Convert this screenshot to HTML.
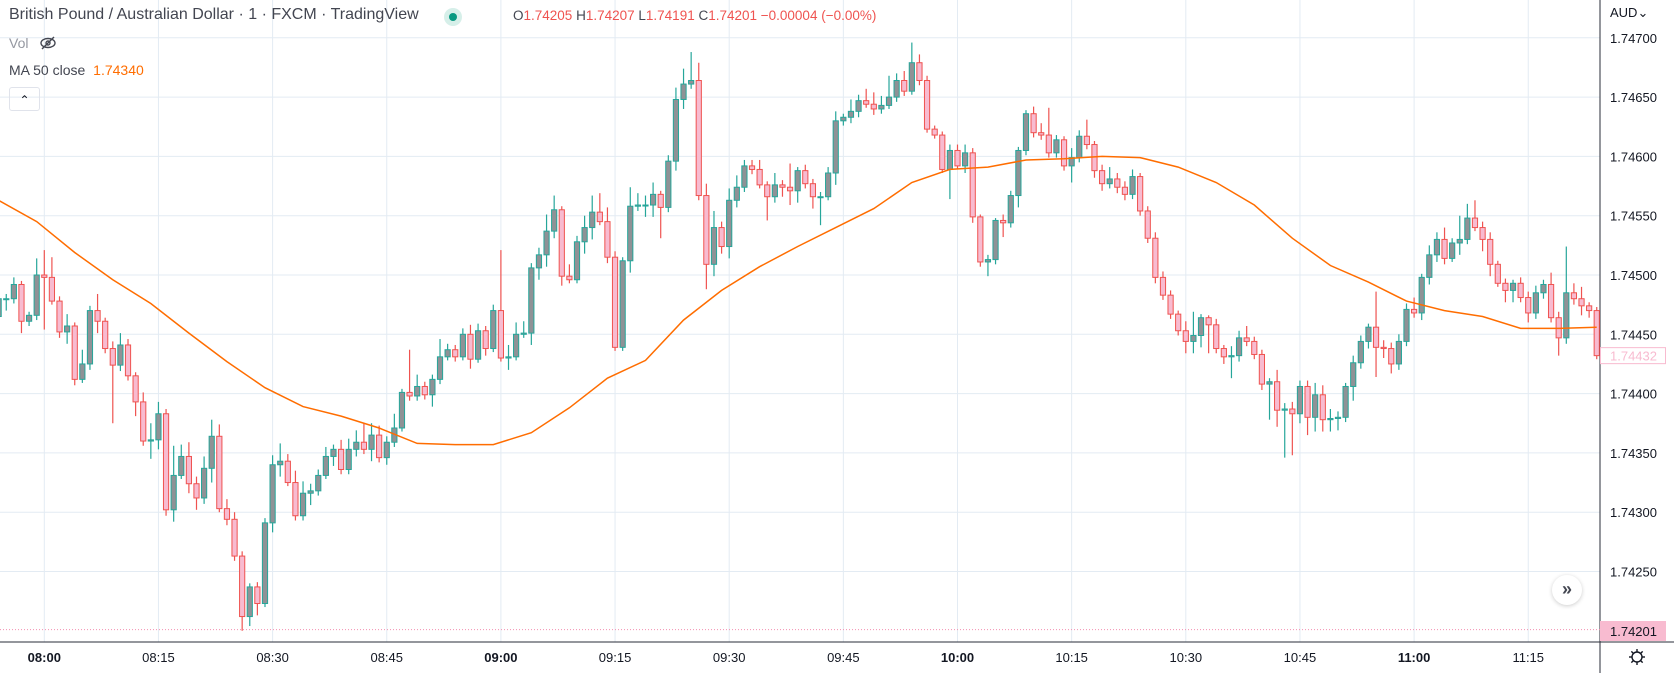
<!DOCTYPE html>
<html><head><meta charset="utf-8"><style>
html,body{margin:0;padding:0;background:#fff;}
body{width:1674px;height:673px;overflow:hidden;position:relative;font-family:"Liberation Sans",sans-serif;}
svg{position:absolute;left:0;top:0;}
.hdr{position:absolute;left:9px;top:6px;font-size:16px;color:#434651;white-space:nowrap;}
</style></head><body>
<svg id="chart" width="1674" height="673"></svg>
<div class="hdr">British Pound / Australian Dollar · 1 · FXCM · TradingView</div>
<div style="position:absolute;left:444px;top:8px;width:18px;height:18px;border-radius:50%;background:#d6efe9;"><div style="position:absolute;left:5px;top:5px;width:8px;height:8px;border-radius:50%;background:#089981;"></div></div>
<div style="position:absolute;left:513px;top:8px;font-size:13.5px;color:#ef5350;white-space:nowrap;"><span style="color:#434651">O</span>1.74205 <span style="color:#434651">H</span>1.74207 <span style="color:#434651">L</span>1.74191 <span style="color:#434651">C</span>1.74201 −0.00004 (−0.00%)</div>
<div style="position:absolute;left:9px;top:35px;font-size:14px;color:#9598a1;">Vol</div>
<svg style="left:38px;top:35px" width="20" height="16"><ellipse cx="10" cy="8" rx="7" ry="4.5" fill="none" stroke="#434651" stroke-width="1.4"/><circle cx="10" cy="8" r="2" fill="none" stroke="#434651" stroke-width="1.4"/><line x1="4" y1="14" x2="16" y2="2" stroke="#434651" stroke-width="1.4"/></svg>
<div style="position:absolute;left:9px;top:62px;font-size:14px;color:#434651;white-space:nowrap;">MA 50 close <span style="color:#ff6d00;margin-left:4px">1.74340</span></div>
<div style="position:absolute;left:9px;top:87px;width:29px;height:22px;border:1px solid #e0e3eb;border-radius:3px;font-size:12px;color:#131722;text-align:center;line-height:24px;">&#x2303;</div>
<div style="position:absolute;left:1610px;top:5px;font-size:13px;color:#131722;">AUD&#x2304;</div>
<div style="position:absolute;left:1552px;top:575px;width:30px;height:30px;border-radius:50%;background:#fff;box-shadow:0 1px 4px rgba(0,0,0,0.2);text-align:center;line-height:29px;font-size:18px;font-weight:bold;color:#434651;">»</div>
<script>
const times=["08:00","08:15","08:30","08:45","09:00","09:15","09:30","09:45","10:00","10:15","10:30","10:45","11:00","11:15"];
const priceTicks=[1.747,1.7465,1.746,1.7455,1.745,1.7445,1.744,1.7435,1.743,1.7425];
const firstOpen=74465;
const closes=[74480,74480,74492,74461,74466,74500,74498,74478,74452,74457,
74412,74425,74470,74461,74438,74424,74441,74415,74393,74360,
74361,74383,74302,74331,74347,74324,74312,74337,74364,74303,
74294,74263,74212,74237,74223,74291,74340,74343,74325,74297,
74316,74318,74331,74347,74353,74336,74353,74359,74353,74365,
74346,74359,74371,74401,74398,74406,74399,74412,74431,74437,
74431,74450,74429,74453,74438,74470,74430,74431,74450,74451,
74506,74517,74537,74555,74499,74496,74528,74540,74553,74545,
74515,74439,74512,74558,74559,74559,74568,74557,74596,74648,
74661,74664,74567,74509,74540,74524,74563,74574,74592,74589,
74576,74566,74576,74574,74571,74588,74577,74566,74566,74586,
74630,74633,74638,74647,74644,74640,74643,74650,74664,74655,
74679,74664,74623,74618,74589,74605,74592,74603,74549,74511,
74513,74546,74544,74567,74605,74636,74620,74618,74603,74614,
74592,74599,74617,74610,74588,74577,74581,74574,74568,74583,
74554,74531,74498,74483,74467,74453,74444,74449,74464,74458,
74438,74431,74432,74447,74444,74433,74408,74410,74386,74387,
74383,74406,74380,74399,74378,74379,74380,74406,74426,74444,
74456,74439,74438,74425,74444,74471,74468,74498,74517,74530,
74514,74527,74530,74548,74540,74530,74509,74493,74487,74493,
74481,74468,74485,74492,74464,74447,74485,74480,74474,74470,74432];
const upWick=[5,4,6,3,3,14,21,17,4,10,3,12,4,14,3,6,10,5,3,8,14,10,4,25,10,12,6,10,14,10,
8,6,4,3,4,4,8,15,6,10,10,6,5,8,4,8,9,10,16,10,8,5,12,3,36,10,4,4,15,5,
4,5,8,6,4,5,51,10,10,10,4,6,14,12,3,10,5,10,14,16,12,5,3,16,10,8,10,3,5,10,
13,24,15,10,14,5,10,10,5,5,8,3,10,4,20,3,5,4,4,5,8,3,10,5,10,10,8,18,6,8,
17,7,4,3,3,5,5,7,4,2,4,2,5,4,3,3,6,8,23,4,3,8,5,14,3,5,10,5,5,6,
3,4,5,5,4,3,8,20,3,2,5,3,8,6,10,4,4,3,10,5,6,5,5,10,8,8,5,3,6,5,
3,30,6,5,6,5,10,3,8,6,10,4,20,12,15,5,6,3,4,3,5,5,6,4,10,5,39,8,10,3,3];
const dnWick=[4,10,4,10,4,4,44,3,5,10,5,3,5,10,4,49,5,4,12,4,15,8,5,10,3,8,10,5,12,3,
5,4,12,8,10,3,8,10,3,4,4,10,4,3,8,4,4,6,4,10,4,6,4,3,4,4,4,10,4,3,
4,3,8,3,6,3,3,10,3,3,10,10,10,6,8,3,3,10,10,3,5,3,3,10,4,10,10,26,4,8,
8,4,4,21,10,6,10,6,4,4,3,20,5,8,12,10,4,10,24,3,10,4,5,5,3,5,4,3,4,4,
3,4,3,3,3,25,3,6,5,4,12,4,12,4,10,4,4,4,4,4,4,14,4,4,6,6,4,5,5,4,
4,4,5,4,4,4,10,10,10,24,4,6,18,5,4,4,5,30,14,40,35,8,15,12,10,10,10,4,12,5,
6,25,8,8,5,4,4,6,6,6,5,3,10,4,3,10,10,3,10,10,4,8,5,5,4,15,5,5,8,6,3];
const maIdx=[0,5,10,15,20,25,30,35,40,45,50,55,60,65,70,75,80,85,90,95,100,105,110,115,120,125,130,135,140,145,150,155,160,165,170,175,180,185,190,195,200,205,210];
const maVals=[74563,74545,74519,74496,74476,74451,74427,74405,74389,74381,74371,74358,74357,74357,74367,74388,74413,74428,74462,74487,74507,74524,74540,74556,74578,74589,74591,74597,74598,74600,74599,74591,74578,74559,74531,74508,74494,74478,74470,74465,74455,74455,74456];
const lastPrice=74432, lowMark=74201;

const NS="http://www.w3.org/2000/svg";
const svg=document.getElementById('chart');
const X=i=>44.3+(i-6)*7.61;
const Y=p=>275+(74500-p)/0.8432;
function mk(tag,attrs,parent){const e=document.createElementNS(NS,tag);for(const k in attrs)e.setAttribute(k,attrs[k]);(parent||svg).appendChild(e);return e;}
priceTicks.forEach(p=>{const y=Y(Math.round(p*1e5)-100000);
 const l=mk('line',{x1:0,x2:1600,y1:y,y2:y,stroke:'#e3ebf3','stroke-width':1});
 
 
 const t=mk('text',{x:1610,y:y+5,'font-size':13,fill:'#131722','font-family':'Liberation Sans, sans-serif'});
 t.textContent=p.toFixed(5);
 
 
});
times.forEach((s,k)=>{const x=X(6+15*k);
 const l=mk('line',{x1:x,x2:x,y1:0,y2:642,stroke:'#e3ebf3','stroke-width':1});
 
 
 const bold=s.endsWith(':00');
 const t=mk('text',{x:x,y:662,'font-size':13,'text-anchor':'middle',fill:'#131722','font-weight':bold?'bold':'normal','font-family':'Liberation Sans, sans-serif'});
 t.textContent=s;
 
 
});
let a=mk('line',{x1:1600,x2:1600,y1:0,y2:673,stroke:'#2a2e39','stroke-width':1});


a=mk('line',{x1:0,x2:1674,y1:642,y2:642,stroke:'#2a2e39','stroke-width':1});


const ly=Y(lowMark);
a=mk('line',{x1:0,x2:1600,y1:ly,y2:ly,stroke:'#f48fb1','stroke-width':1,'stroke-dasharray':'1,2'});


for(let i=0;i<closes.length;i++){
 const o=i===0?firstOpen:closes[i-1], c=closes[i];
 const up=c>=o, hi=Math.max(o,c)+upWick[i], lo=Math.min(o,c)-dnWick[i];
 const x=X(i);
 const g=mk('g',{});
 
 
 mk('line',{x1:x,x2:x,y1:Y(hi),y2:Y(lo),stroke:up?'#26a69a':'#ef5350','stroke-width':1.2},g);
 const yt=Y(Math.max(o,c)), yb=Y(Math.min(o,c));
 mk('rect',{x:x-2.6,y:yt,width:5.2,height:Math.max(1,yb-yt),fill:up?'#8f9296':'#f8bbd0',stroke:up?'#26a69a':'#ef5350','stroke-width':1},g);
}
let d='';maIdx.forEach((k,j)=>{d+=(j?'L':'M')+X(k).toFixed(1)+','+Y(maVals[j]).toFixed(1);});
a=mk('path',{d:d,fill:'none',stroke:'#ff6d00','stroke-width':1.5});


let yy=Y(lastPrice);
a=mk('rect',{x:1600.5,y:yy-8,width:65,height:16,fill:'#fff',stroke:'#f8bbd0','stroke-width':1});


a=mk('text',{x:1610,y:yy+5,'font-size':13,fill:'#f8bbd0','font-family':'Liberation Sans, sans-serif'});
a.textContent=(lastPrice/1e5+1).toFixed(5);


a=mk('rect',{x:1600,y:621,width:66,height:20,fill:'#f8bbd0'});


a=mk('text',{x:1610,y:636,'font-size':13,fill:'#131722','font-family':'Liberation Sans, sans-serif'});
a.textContent=(lowMark/1e5+1).toFixed(5);


const gg=mk('g',{});


mk('circle',{cx:1637,cy:657,r:5,fill:'none',stroke:'#131722','stroke-width':1.4},gg);
for(let k=0;k<8;k++){const an=k*Math.PI/4;mk('line',{x1:1637+5*Math.cos(an),y1:657+5*Math.sin(an),x2:1637+8*Math.cos(an),y2:657+8*Math.sin(an),stroke:'#131722','stroke-width':1.4},gg);}
</script>
</body></html>
